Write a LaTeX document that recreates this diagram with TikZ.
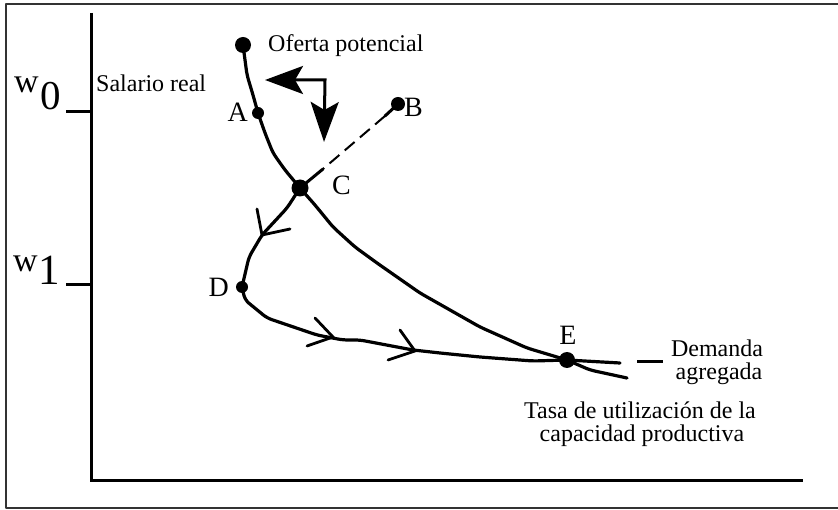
\documentclass[tikz,border=0pt]{standalone}
\usepackage{fontspec}
\setmainfont{Liberation Serif}
\usetikzlibrary{arrows.meta}
\begin{document}
\begin{tikzpicture}[x=1pt,y=-1pt, line cap=round, line join=round,
  curve/.style={line width=3.2pt, rounded corners=5pt},
  axis/.style={line width=3pt, line cap=butt, line join=miter},
  dot/.style={circle, fill=black, draw=none, inner sep=0pt, minimum size=#1},
  lbl/.style={font=\fontsize{28}{28}\selectfont, inner sep=0pt},
  txt/.style={font=\fontsize{24}{24}\selectfont, inner sep=0pt},
  chev/.style={line width=2.8pt, line join=miter}]
\useasboundingbox (0,0) rectangle (838,510);
\clip (0,0) rectangle (838,510);
% frame
\draw[line width=2.4pt, draw=black!80] (6,4) rectangle (850,508);
% axes
\coordinate (ytop) at (91,13);
\coordinate (orig) at (91,480);
\coordinate (xend) at (803,480);
\draw[axis] (ytop) -- (orig) -- (xend);
% ticks
\coordinate (t0a) at (66,112); \coordinate (t0b) at (91,112);
\coordinate (t1a) at (66,285); \coordinate (t1b) at (91,285);
\draw[axis] (t0a) -- (t0b);
\draw[axis] (t1a) -- (t1b);
% tick labels
\node[anchor=base west, inner sep=0pt] (w0w) at (14,93) {\fontsize{34}{34}\selectfont w};
\node[anchor=base west, inner sep=0pt] (w0n) at (40,110) {\fontsize{41}{41}\selectfont 0};
\node[anchor=base west, inner sep=0pt] (w1w) at (13,272) {\fontsize{34}{34}\selectfont w};
\node[anchor=base west, inner sep=0pt] (w1n) at (38,285) {\fontsize{43}{43}\selectfont 1};
% key points
\coordinate (P) at (243,45);
\coordinate (A) at (258,113);
\coordinate (B) at (398,104);
\coordinate (C) at (300,188);
\coordinate (D) at (242,287);
\coordinate (E) at (567,360);
\coordinate (oEnd) at (627,378);
\coordinate (dEnd) at (620,363);
% oferta potencial curve
\draw[curve] (P) -- (247,75) -- (253,95) -- (A) -- (265,133) -- (273,153) -- (285,170)
  -- (C) -- (315,205) -- (333,227) -- (355,247) -- (377,263) -- (420,293)
  -- (480,327) -- (527,348) -- (E) -- (590,370) -- (oEnd);
% demanda agregada curve
\draw[curve] (C) -- (287,208) -- (262,235) -- (249,257) -- (D) -- (245,300)
  -- (267,318) -- (317,335) -- (343,340) -- (360,340) -- (413,350) -- (440,353)
  -- (480,357) -- (533,361) -- (E) -- (dEnd);
\coordinate (dd1) at (637,362); \coordinate (dd2) at (663,362);
\draw[line width=3pt, line cap=butt] (dd1) -- (dd2);
% B to C (dashed middle)
\coordinate (bc1) at (385,116);
\coordinate (bc2) at (323,169);
\draw[line width=3pt] (B) -- (bc1);
\draw[line width=2pt, line cap=butt, dash pattern=on 13pt off 7pt] (bc1) -- (bc2);
\draw[line width=3pt] (bc2) -- (C);
% chevrons
\coordinate (c1) at (262,235); \coordinate (c1a) at (257,209); \coordinate (c1b) at (290,229);
\coordinate (c2) at (333,337); \coordinate (c2a) at (315,318); \coordinate (c2b) at (307,346);
\coordinate (c3) at (415,351); \coordinate (c3a) at (400,330); \coordinate (c3b) at (388,360);
\draw[chev] (c1a) -- (c1) -- (c1b);
\draw[chev] (c2a) -- (c2) -- (c2b);
\draw[chev] (c3a) -- (c3) -- (c3b);
% big L arrow
\coordinate (la) at (265,80); \coordinate (lc) at (325,80); \coordinate (lb) at (324,142);
\draw[line width=3pt, line cap=butt, line join=miter,
  {Stealth[length=38pt,width=28pt,inset=8pt]}-{Stealth[length=40pt,width=28pt,inset=8pt]}]
  (la) -- (lc) -- (lb);
% dots
\node[dot=16pt] (Pd) at (P) {};
\node[dot=12pt] (Ad) at (A) {};
\node[dot=14pt] (Bd) at (B) {};
\node[dot=17pt] (Cd) at (C) {};
\node[dot=12pt] (Dd) at (D) {};
\node[dot=16pt] (Ed) at (E) {};
% point labels
\node[lbl, anchor=base east] (Al) at (248,122) {A};
\node[lbl, anchor=base west] (Bl) at (404,117) {B};
\node[lbl, anchor=base west] (Cl) at (332,195) {C};
\node[lbl, anchor=base east] (Dl) at (229,297) {D};
\node[lbl, anchor=base] (El) at (568,345) {E};
% texts
\node[txt, anchor=base west] (ofe) at (268,52) {Oferta potencial};
\node[txt, anchor=base west] (sal) at (96,92) {Salario real};
\node[txt, anchor=base] (dem1) at (717,357) {Demanda};
\node[txt, anchor=base] (dem2) at (719,380) {agregada};
\node[txt, anchor=base] (tas1) at (640,418) {Tasa de utilización de la};
\node[txt, anchor=base] (tas2) at (642,441) {capacidad productiva};
\end{tikzpicture}
\end{document}
